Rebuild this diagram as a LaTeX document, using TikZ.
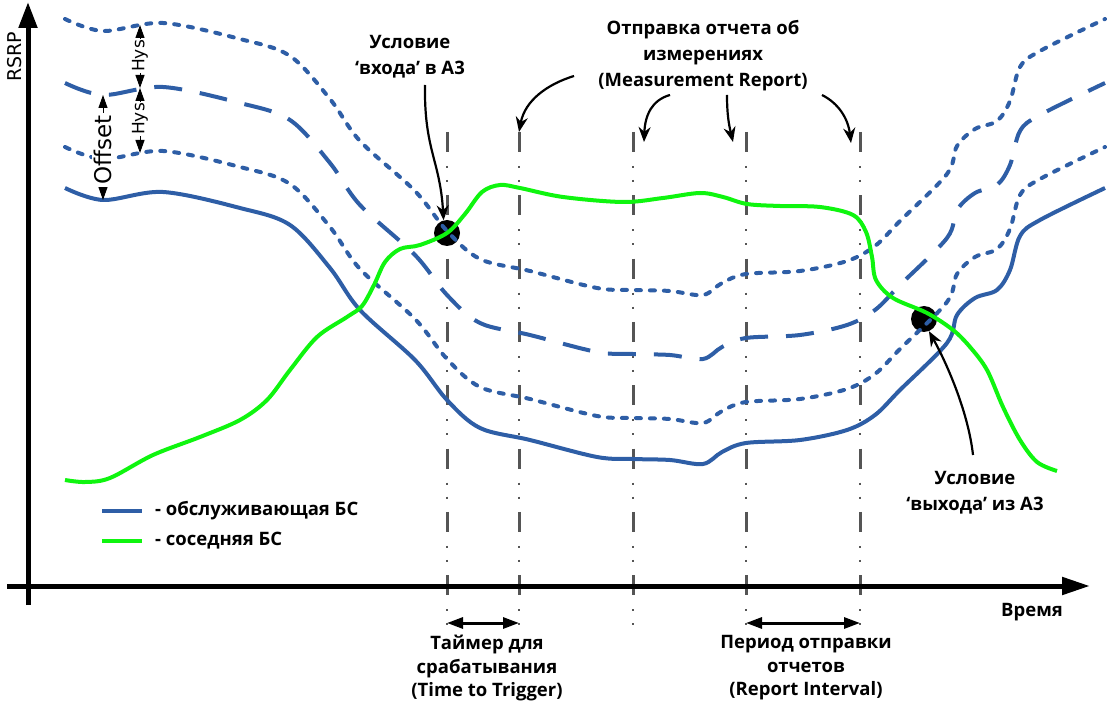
\documentclass[tikz,border=0pt]{standalone}
\usepackage{fontspec}
\setmainfont{DejaVu Sans}
\newfontfamily\lblfont{Open Sans}
\usetikzlibrary{arrows.meta}
\definecolor{serv}{RGB}{46,94,166}
\definecolor{neigh}{RGB}{15,245,15}
\definecolor{vline}{RGB}{85,85,85}
\newcommand\servcurve{plot[smooth,tension=0.55] coordinates {(65,188) (103,200) (163,192) (240,208) (290,225) (330,268) (360,310) (415,360) (447,400) (480,428) (530,440) (597,457) (633,459) (670,460) (703,464) (722,452) (746,443) (800,440) (847,430) (875,415) (900,390) (947,343) (957,315) (975,298) (997,290) (1010,270) (1020,236) (1040,220) (1105,188)}}
\begin{document}
\begin{tikzpicture}[x=1pt,y=-1pt,
  servsolid/.style={serv, line width=4pt},
  servdash/.style={serv, line width=4pt, dash pattern=on 28pt off 18pt},
  servdot/.style={serv, line width=4pt, line cap=round, dash pattern=on 5pt off 9pt},
  neighline/.style={neigh, line width=4pt},
  vdash/.style={vline, line width=3pt, dash pattern=on 20pt off 43.3pt},
  vdots/.style={vline, line width=2pt, dash pattern=on 2pt off 12pt on 2pt off 47.3pt, dash phase=29.3pt},
  axisline/.style={black, line width=5pt},
  lbl/.style={font=\lblfont\bfseries\fontsize{18.5}{26}\selectfont, align=center, inner sep=0pt},
  annarrow/.style={black, line width=2.2pt, -{Stealth[length=15pt,width=12pt]}},
  spanarrow/.style={black, line width=3pt, {Triangle[length=16pt,width=11pt]}-{Triangle[length=16pt,width=11pt]}},
  dimarrow/.style={black, line width=1pt, {Triangle[length=13pt,width=9pt]}-{Triangle[length=13pt,width=9pt]}},
  dimlbl/.style={font=\fontsize{17}{18}\selectfont, rotate=90, fill=white, inner sep=1pt},
  dot/.style={circle, fill=black, minimum size=26pt, inner sep=0pt}
]
\useasboundingbox (0,0) rectangle (1108,708);

% vertical marker lines
\foreach \n/\x in {1/447,2/519,3/633,4/746,5/860} {
  \coordinate (v\n t) at (\x,132);
  \coordinate (v\n b) at (\x,626);
  \draw[vdash] (v\n t) -- (v\n b);
  \draw[vdots] (v\n t) -- (v\n b);
}

% event points (under the curves)
\node[dot] (enterdot) at (447,233) {};
\node[dot] (exitdot) at (924,319) {};

% serving cell curves
\draw[servsolid] \servcurve;
\draw[servdot, yshift=41pt] \servcurve;
\draw[servdash, yshift=105pt] \servcurve;
\draw[servdot, yshift=169pt] \servcurve;

% neighbour cell curve
\draw[neighline] plot[smooth,tension=0.55] coordinates {(65,480) (85,482) (110,478) (153,455) (200,437) (240,420) (267,400) (290,370) (317,337) (347,317) (362,306) (374,285) (385,262) (400,249) (420,245) (447,233) (465,214) (482,192) (500,185) (520,188) (563,197) (623,202) (663,198) (700,193) (723,197) (747,204) (780,206) (820,207) (853,215) (866,232) (872,257) (876,280) (893,298) (927,313) (953,330) (970,347) (987,370) (1003,407) (1020,440) (1037,462) (1057,471)};

% axes
\coordinate (yb) at (28,605);
\coordinate (yt) at (28,2);
\coordinate (xl) at (7,586);
\coordinate (xr) at (1090,586);
\draw[axisline, -{Triangle[length=26pt,width=18pt]}] (yb) -- (yt);
\draw[axisline, -{Triangle[length=28pt,width=17pt]}] (xl) -- (xr);
\node[font=\fontsize{19}{20}\selectfont, rotate=90, inner sep=0pt] (rsrp) at (15,57) {RSRP};
\node[lbl] (time) at (1032,612) {Время};

% offset / hysteresis dimensions
\coordinate (offT) at (103,95);
\coordinate (offB) at (103,200);
\draw[dimarrow] (offT) -- (offB);
\node[dimlbl, font=\fontsize{23}{24}\selectfont, inner sep=2pt] (offl) at (103,150) {Offset};
\coordinate (hysA) at (140,25);
\coordinate (hysM) at (140,88);
\coordinate (hysB) at (140,153);
\draw[dimarrow] (hysA) -- (hysM);
\draw[dimarrow] (hysM) -- (hysB);
\node[dimlbl] (hys1) at (140,56) {Hys};
\node[dimlbl] (hys2) at (140,119) {Hys};

% labels
\node[lbl] (enterl) at (410,57) {Условие\\‘входа’ в A3};
\node[lbl] (exitl) at (975,493) {Условие\\‘выхода’ из A3};
\node[lbl] (mrl) at (703,56) {Отправка отчета об\\измерениях\\(Measurement Report)};
\node[lbl, font=\lblfont\bfseries\fontsize{18.5}{23.5}\selectfont] (tttl) at (487,668) {Таймер для\\срабатывания\\(Time to Trigger)};
\node[lbl, font=\lblfont\bfseries\fontsize{18.5}{23.5}\selectfont] (ril) at (806,668) {Период отправки\\отчетов\\(Report Interval)};

% annotation arrows
\coordinate (ea) at (425,85);
\draw[annarrow] (ea) .. controls (424,150) and (440,160) .. (enterdot.105);
\coordinate (xa) at (973,455);
\draw[annarrow] (xa) .. controls (968,410) and (945,360) .. (exitdot.-68);
\coordinate (m1) at (574,76);
\coordinate (m2) at (670,95);
\coordinate (m3) at (727,95);
\coordinate (m4) at (822,95);
\coordinate (m2e) at (644,142);
\coordinate (m3e) at (733,142);
\coordinate (m4e) at (851,143);
\draw[annarrow] (m1) .. controls (548,84) and (525,100) .. (v2t);
\draw[annarrow] (m2) .. controls (652,100) and (645,115) .. (m2e);
\draw[annarrow] (m3) .. controls (727,115) and (729,125) .. (m3e);
\draw[annarrow] (m4) .. controls (838,103) and (848,118) .. (m4e);

% interval arrows
\coordinate (t1) at (447,623);
\coordinate (t2) at (519,623);
\coordinate (r1) at (746,623);
\coordinate (r2) at (860,623);
\draw[spanarrow] (t1) -- (t2);
\draw[spanarrow] (r1) -- (r2);

% legend
\coordinate (lg1a) at (102,511);
\coordinate (lg1b) at (142,511);
\coordinate (lg2a) at (102,541);
\coordinate (lg2b) at (142,541);
\draw[servsolid] (lg1a) -- (lg1b);
\draw[neighline] (lg2a) -- (lg2b);
\node[lbl, anchor=west] (leg1) at (155,511) {- обслуживающая БС};
\node[lbl, anchor=west] (leg2) at (155,541) {- соседняя БС};
\end{tikzpicture}
\end{document}
